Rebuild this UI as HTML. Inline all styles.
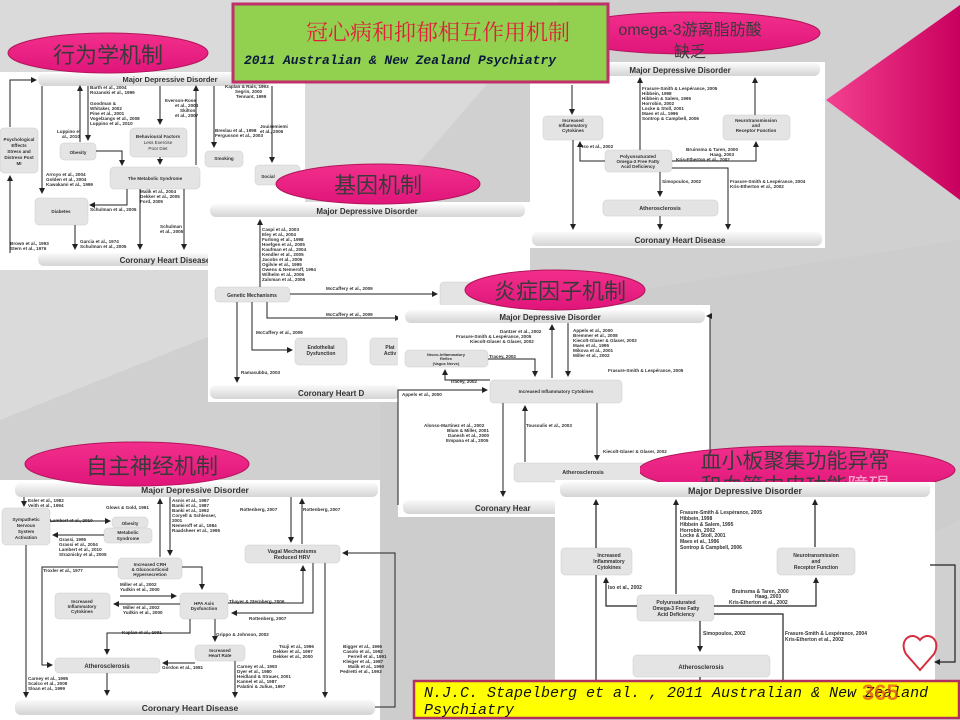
<!DOCTYPE html>
<html><head><meta charset="utf-8"><style>
body{margin:0;width:960px;height:720px;overflow:hidden;background:#d2d2d2}
svg{display:block}
.b{font-family:"Liberation Sans",sans-serif;font-weight:bold;fill:#333}
.s{font-family:"Liberation Sans",sans-serif;font-size:4.6px;fill:#333;font-weight:bold}
.cj{font-family:"Liberation Sans","Noto Sans CJK SC",sans-serif;fill:#3a3a3a}
</style></head><body>
<svg width="960" height="720" viewBox="0 0 960 720" xmlns="http://www.w3.org/2000/svg">
<defs>
<marker id="a" markerWidth="6" markerHeight="6" refX="5" refY="3" orient="auto" markerUnits="userSpaceOnUse"><path d="M0,0L6,3L0,6z" fill="#222"/></marker>
<linearGradient id="bar" x1="0" y1="0" x2="0" y2="1"><stop offset="0" stop-color="#fafafa"/><stop offset="1" stop-color="#d4d4d4"/></linearGradient>
<linearGradient id="pk" x1="0" y1="0" x2="0" y2="1"><stop offset="0" stop-color="#f22f8c"/><stop offset="1" stop-color="#e0157a"/></linearGradient>
<linearGradient id="tri" x1="0" y1="0" x2="1" y2="0"><stop offset="0" stop-color="#f4408f"/><stop offset="1" stop-color="#c8005e"/></linearGradient>
</defs>
<rect width="960" height="720" fill="#d0d0d0"/>
<polygon points="0,0 560,0 300,300 0,420" fill="#dadada"/>
<polygon points="380,330 960,240 960,520 560,720 380,720" fill="#cdcdcd"/>
<polygon points="826,100 960,5 960,200" fill="url(#tri)"/>

<!-- ===== Panel 1 behavioural ===== -->
<rect x="0" y="72" width="305" height="198" fill="#fff"/>
<rect x="38" y="73" width="230" height="13" rx="6" fill="url(#bar)"/>
<text x="170" y="82" class="b" font-size="7.5" text-anchor="middle">Major Depressive Disorder</text>
<rect x="38" y="253" width="190" height="13" rx="6" fill="url(#bar)"/>
<text x="165" y="263" class="b" font-size="8" text-anchor="middle">Coronary Heart Disease</text>
<g fill="#e4e4e4" stroke="#ccc" stroke-width="0.5">
<rect x="0" y="128" width="38" height="45" rx="4"/>
<rect x="60" y="143" width="36" height="17" rx="4"/>
<rect x="130" y="128" width="57" height="29" rx="4"/>
<rect x="110" y="167" width="90" height="22" rx="4"/>
<rect x="35" y="198" width="53" height="27" rx="4"/>
<rect x="205" y="151" width="38" height="16" rx="4"/>
<rect x="255" y="165" width="45" height="20" rx="4"/>
</g>
<g class="s" text-anchor="middle">
<text x="19" y="141">Psychological</text><text x="19" y="147">Effects</text><text x="19" y="153">Stress and</text><text x="19" y="159">Distress Post</text><text x="19" y="165">MI</text>
<text x="78" y="154">Obesity</text>
<text x="158" y="138">Behavioural Factors</text><text x="158" y="144" font-weight="normal">Less Exercise</text><text x="158" y="150" font-weight="normal">Poor Diet</text>
<text x="155" y="180">The Metabolic Syndrome</text>
<text x="61" y="213">Diabetes</text>
<text x="224" y="160">Smoking</text>
<text x="268" y="178">Social</text>
</g>
<g class="s">
<text x="90" y="89">Barth et al., 2004</text><text x="90" y="94">Rozanski et al., 1999</text>
<text x="90" y="105">Goodman &amp;</text><text x="90" y="110">Whitaker, 2002</text><text x="90" y="115">Pine et al., 2001</text><text x="90" y="120">Vogelzangs et al., 2008</text><text x="90" y="125">Luppino et al., 2010</text>
<text x="57" y="133">Luppino et</text><text x="62" y="138">al., 2010</text>
<text x="46" y="176">Arroyo et al., 2004</text><text x="46" y="181">Golden et al., 2004</text><text x="46" y="186">Kawakami et al., 1999</text>
<text x="165" y="102">Everson-Rose</text><text x="175" y="107">et al., 2004</text><text x="180" y="112">Skilton</text><text x="175" y="117">et al., 2007</text>
<text x="215" y="132">Breslau et al., 1998</text><text x="215" y="137">Fergusson et al., 2003</text>
<text x="260" y="128">Jouisemiemi</text><text x="260" y="133">et al., 2006</text>
<text x="140" y="193">Malik et al., 2004</text><text x="140" y="198">Dekker et al., 2005</text><text x="140" y="203">Ford, 2005</text>
<text x="90" y="211">Schulman et al., 2005</text>
<text x="160" y="228">Schulman</text><text x="160" y="233">et al., 2005</text>
<text x="10" y="245">Brown et al., 1993</text><text x="10" y="250">Stern et al., 1976</text>
<text x="80" y="243">Garcia et al., 1974</text><text x="80" y="248">Schulman et al., 2005</text>
<text x="225" y="88">Kaplan &amp; Rais, 1993</text><text x="235" y="93">Segrin, 2000</text><text x="236" y="98">Tennant, 1999</text>
</g>
<g stroke="#222" stroke-width="1" fill="none" marker-end="url(#a)">
<path d="M10,127V80H36"/><path d="M42,86V193"/><path d="M80,142V86"/><path d="M88,86V140"/>
<path d="M96,151H122V165"/><path d="M160,86V124"/><path d="M160,157V164"/><path d="M196,165V86"/>
<path d="M127,189V205H90"/><path d="M140,189V249"/><path d="M184,189V249"/><path d="M214,86V147"/>
<path d="M272,86V162"/><path d="M75,225V249"/><path d="M10,253V176"/>
</g>

<!-- ===== Panel omega ===== -->
<rect x="530" y="62" width="295" height="186" fill="#fff"/>
<rect x="540" y="63" width="280" height="13" rx="6" fill="url(#bar)"/>
<text x="680" y="73" class="b" font-size="8" text-anchor="middle">Major Depressive Disorder</text>
<rect x="532" y="232" width="290" height="14" rx="6" fill="url(#bar)"/>
<text x="680" y="243" class="b" font-size="8" text-anchor="middle">Coronary Heart Disease</text>
<g fill="#e4e4e4" stroke="#ccc" stroke-width="0.5">
<rect x="543" y="116" width="60" height="24" rx="4"/>
<rect x="723" y="115" width="67" height="25" rx="4"/>
<rect x="605" y="150" width="67" height="22" rx="4"/>
<rect x="603" y="200" width="115" height="16" rx="4"/>
</g>
<g class="s" text-anchor="middle">
<text x="573" y="122">Increased</text><text x="573" y="127">Inflammatory</text><text x="573" y="132">Cytokines</text>
<text x="756" y="122">Neurotransmission</text><text x="756" y="127">and</text><text x="756" y="132">Receptor Function</text>
<text x="638" y="158">Polyunsaturated</text><text x="638" y="163">Omega-3 Free Fatty</text><text x="638" y="168">Acid Deficiency</text>
<text x="660" y="210" font-size="5.5">Atherosclerosis</text>
</g>
<g class="s">
<text x="642" y="90">Frasure-Smith &amp; Lespérance, 2005</text><text x="642" y="95">Hibbein, 1998</text><text x="642" y="100">Hibbein &amp; Salem, 1995</text><text x="642" y="105">Horrobin, 2002</text><text x="642" y="110">Locke &amp; Stoll, 2001</text><text x="642" y="115">Maes et al., 1996</text><text x="642" y="120">Sontrop &amp; Campbell, 2006</text>
<text x="582" y="148">Iso et al., 2002</text>
<text x="686" y="151">Bruinsma &amp; Taren, 2000</text><text x="710" y="156">Haag, 2003</text><text x="676" y="161">Kris-Etherton et al., 2002</text>
<text x="662" y="183">Simopoulos, 2002</text>
<text x="730" y="183">Frasure-Smith &amp; Lespérance, 2004</text><text x="730" y="188">Kris-Etherton et al., 2002</text>
</g>
<g stroke="#222" stroke-width="1" fill="none" marker-end="url(#a)">
<path d="M640,150V78"/><path d="M755,115V78"/><path d="M605,161H580V142"/><path d="M672,161H756V142"/>
<path d="M660,172V196"/><path d="M672,168H728V229"/><path d="M660,216V229"/><path d="M573,140V229"/><path d="M572,85V114"/>
</g>

<!-- ===== Panel genetic ===== -->
<rect x="208" y="202" width="322" height="200" fill="#fff"/>
<rect x="210" y="204" width="315" height="13" rx="6" fill="url(#bar)"/>
<text x="367" y="214" class="b" font-size="8" text-anchor="middle">Major Depressive Disorder</text>
<rect x="210" y="385" width="190" height="14" rx="6" fill="url(#bar)"/>
<text x="298" y="396" class="b" font-size="8">Coronary Heart D</text>
<g fill="#e4e4e4" stroke="#ccc" stroke-width="0.5">
<rect x="215" y="287" width="75" height="15" rx="4"/>
<rect x="295" y="338" width="52" height="27" rx="4"/>
<rect x="370" y="338" width="30" height="27" rx="4"/>
<rect x="440" y="282" width="60" height="26" rx="4"/>
</g>
<g class="s" text-anchor="middle">
<text x="252" y="297" font-size="5">Genetic Mechanisms</text>
<text x="321" y="349" font-size="5">Endothelial</text><text x="321" y="355" font-size="5">Dysfunction</text>
<text x="390" y="349" font-size="5">Plat</text><text x="390" y="355" font-size="5">Activ</text>
</g>
<g class="s">
<text x="262" y="231">Caspi et al., 2003</text><text x="262" y="236">Eley et al., 2004</text><text x="262" y="241">Furlong et al., 1998</text><text x="262" y="246">Hoefgen et al., 2005</text><text x="262" y="251">Kaufman et al., 2004</text><text x="262" y="256">Kendler et al., 2005</text><text x="262" y="261">Jacobs et al., 2006</text><text x="262" y="266">Ogilvie et al., 1995</text><text x="262" y="271">Owens &amp; Nemeroff, 1994</text><text x="262" y="276">Wilhelm et al., 2006</text><text x="262" y="281">Zalsman et al., 2006</text>
<text x="326" y="290">McCaffery et al., 2009</text><text x="326" y="316">McCaffery et al., 2009</text><text x="256" y="334">McCaffery et al., 2009</text><text x="241" y="374">Ramasubbu, 2003</text>
</g>
<g stroke="#222" stroke-width="1" fill="none" marker-end="url(#a)">
<path d="M260,287V220"/><path d="M290,294H437"/><path d="M267,302V318H400"/><path d="M252,302V350H292"/><path d="M237,302V382"/>
</g>

<!-- ===== Panel inflammatory ===== -->
<rect x="398" y="305" width="312" height="212" fill="#fff"/>
<rect x="405" y="310" width="300" height="13" rx="6" fill="url(#bar)"/>
<text x="550" y="320" class="b" font-size="8" text-anchor="middle">Major Depressive Disorder</text>
<rect x="403" y="500" width="170" height="14" rx="6" fill="url(#bar)"/>
<text x="475" y="511" class="b" font-size="8">Coronary Hear</text>
<g fill="#e4e4e4" stroke="#ccc" stroke-width="0.5">
<rect x="405" y="350" width="83" height="17" rx="4"/>
<rect x="490" y="380" width="132" height="23" rx="4"/>
<rect x="514" y="463" width="140" height="19" rx="4"/>
</g>
<g class="s" text-anchor="middle">
<text x="446" y="356" font-size="4">Neuro-Inflammatory</text><text x="446" y="360" font-size="4">Reflex</text><text x="446" y="365" font-size="4">(Vagus Nerve)</text>
<text x="556" y="393">Increased Inflammatory Cytokines</text>
<text x="583" y="474" font-size="5.5">Atherosclerosis</text>
</g>
<g class="s">
<text x="500" y="333">Dantzer et al., 2002</text><text x="456" y="338">Frasure-Smith &amp; Lespérance, 2005</text><text x="470" y="343">Kiecolt-Glaser &amp; Glaser, 2002</text>
<text x="573" y="332">Appels et al., 2000</text><text x="573" y="337">Bremmer et al., 2008</text><text x="573" y="342">Kiecolt-Glaser &amp; Glaser, 2002</text><text x="573" y="347">Maes et al., 1995</text><text x="573" y="352">Mikova et al., 2001</text><text x="573" y="357">Miller et al., 2002</text>
<text x="608" y="372">Frasure-Smith &amp; Lespérance, 2005</text>
<text x="489" y="358">Tracey, 2002</text><text x="450" y="383">Tracey, 2002</text><text x="402" y="396">Appels et al., 2000</text>
<text x="424" y="427">Alonso-Martinez et al., 2002</text><text x="447" y="432">Blum &amp; Miller, 2001</text><text x="448" y="437">Danesh et al., 2000</text><text x="446" y="442">Empana et al., 2005</text>
<text x="526" y="427">Tousoulis et al., 2003</text><text x="603" y="453">Kiecolt-Glaser &amp; Glaser, 2002</text>
</g>
<g stroke="#222" stroke-width="1" fill="none" marker-end="url(#a)">
<path d="M552,378V325"/><path d="M568,323V376"/><path d="M488,359H535V376"/><path d="M490,380H445V370"/>
<path d="M398,505V390H487"/><path d="M503,403V496"/><path d="M525,462V406"/><path d="M597,403V460"/>
<path d="M710,480V316H707"/>
</g>

<!-- ===== Panel autonomic ===== -->
<rect x="0" y="480" width="380" height="240" fill="#fff"/>
<rect x="15" y="483" width="363" height="14" rx="6" fill="url(#bar)"/>
<text x="195" y="493" class="b" font-size="8.5" text-anchor="middle">Major Depressive Disorder</text>
<rect x="15" y="700" width="360" height="15" rx="6" fill="url(#bar)"/>
<text x="190" y="711" class="b" font-size="8.5" text-anchor="middle">Coronary Heart Disease</text>
<g fill="#e4e4e4" stroke="#ccc" stroke-width="0.5">
<rect x="2" y="508" width="48" height="37" rx="4"/>
<rect x="112" y="517" width="36" height="11" rx="4"/>
<rect x="104" y="528" width="48" height="15" rx="4"/>
<rect x="118" y="558" width="64" height="21" rx="4"/>
<rect x="245" y="545" width="95" height="18" rx="4"/>
<rect x="55" y="593" width="55" height="26" rx="4"/>
<rect x="180" y="593" width="48" height="26" rx="4"/>
<rect x="195" y="645" width="50" height="16" rx="4"/>
<rect x="55" y="658" width="105" height="15" rx="4"/>
</g>
<g class="s" text-anchor="middle">
<text x="26" y="521">Sympathetic</text><text x="26" y="527">Nervous</text><text x="26" y="533">System</text><text x="26" y="539">Activation</text>
<text x="130" y="525">Obesity</text><text x="128" y="534">Metabolic</text><text x="128" y="540">Syndrome</text>
<text x="150" y="566">Increased CRH</text><text x="150" y="571">&amp; Glucocorticoid</text><text x="150" y="576">Hypersecretion</text>
<text x="292" y="553" font-size="5.5">Vagal Mechanisms</text><text x="292" y="559" font-size="5.5">Reduced HRV</text>
<text x="82" y="603">Increased</text><text x="82" y="608">Inflammatory</text><text x="82" y="613">Cytokines</text>
<text x="204" y="605">HPA Axis</text><text x="204" y="610">Dysfunction</text>
<text x="220" y="652">Increased</text><text x="220" y="657">Heart Rate</text>
<text x="107" y="668" font-size="6">Atherosclerosis</text>
</g>
<g class="s">
<text x="28" y="502">Esler et al., 1982</text><text x="28" y="507">Veith et al., 1994</text>
<text x="106" y="509">Glows &amp; Gold, 1991</text>
<text x="172" y="502">Asnis et al., 1987</text><text x="172" y="507">Banki et al., 1987</text><text x="172" y="512">Banki et al., 1992</text><text x="172" y="517">Coryell &amp; Schlesser,</text><text x="172" y="522">2001</text><text x="172" y="527">Nemeroff et al., 1984</text><text x="172" y="532">Raadsheer et al., 1995</text>
<text x="240" y="511">Rottenberg, 2007</text><text x="303" y="511">Rottenberg, 2007</text>
<text x="50" y="522">Lambert et al., 2010</text>
<text x="59" y="541">Grassi, 1995</text><text x="59" y="546">Grassi et al., 2004</text><text x="59" y="551">Lambert et al., 2010</text><text x="59" y="556">Straznicky et al., 2005</text>
<text x="43" y="572">Troxler et al., 1977</text>
<text x="120" y="586">Miller et al., 2002</text><text x="120" y="591">Yudkin et al., 2000</text>
<text x="123" y="609">Miller et al., 2002</text><text x="123" y="614">Yudkin et al., 2000</text>
<text x="229" y="603">Thayer &amp; Sternberg, 2006</text><text x="249" y="620">Rottenberg, 2007</text>
<text x="122" y="634">Kaplan et al., 1991</text><text x="216" y="636">Grippo &amp; Johnson, 2002</text>
<text x="162" y="669">Gordon et al., 1981</text>
<text x="279" y="648">Tsuji et al., 1996</text><text x="273" y="653">Dekker et al., 1997</text><text x="273" y="658">Dekker et al., 2000</text>
<text x="237" y="668">Carney et al., 1993</text><text x="237" y="673">Dyer et al., 1980</text><text x="237" y="678">Heidland &amp; Strauer, 2001</text><text x="237" y="683">Kannel et al., 1987</text><text x="237" y="688">Palatini &amp; Julius, 1997</text>
<text x="343" y="648">Bigger et al., 1996</text><text x="343" y="653">Casolo et al., 1992</text><text x="348" y="658">Ferrell et al., 1991</text><text x="343" y="663">Kleiger et al., 1987</text><text x="348" y="668">Malik et al., 1990</text><text x="340" y="673">Pedretti et al., 1993</text>
<text x="28" y="680">Carney et al., 1995</text><text x="28" y="685">Scalco et al., 2009</text><text x="28" y="690">Sloan et al., 1999</text>
</g>
<g stroke="#222" stroke-width="1" fill="none" marker-end="url(#a)">
<path d="M24,497V506"/><path d="M50,521H110"/><path d="M104,535H53"/><path d="M160,557V499"/><path d="M170,497V555"/>
<path d="M182,567H202V589"/><path d="M118,567H42V665H52"/><path d="M120,596H176"/><path d="M180,604H114"/>
<path d="M228,603H303V566"/><path d="M313,563V613H232"/><path d="M291,497V542"/><path d="M302,544V499"/>
<path d="M190,619V633H107V654"/><path d="M215,619V641"/><path d="M195,663H163"/><path d="M107,673V695"/>
<path d="M235,661V697"/><path d="M325,563V697"/><path d="M26,545V697"/><path d="M375,707H395V553H343"/>
</g>

<!-- ===== Panel platelet ===== -->
<rect x="555" y="480" width="380" height="220" fill="#fff"/>
<rect x="560" y="482" width="370" height="15" rx="6" fill="url(#bar)"/>
<text x="745" y="494" class="b" font-size="9" text-anchor="middle">Major Depressive Disorder</text>
<g fill="#e4e4e4" stroke="#ccc" stroke-width="0.5">
<rect x="561" y="548" width="71" height="27" rx="4"/>
<rect x="777" y="548" width="78" height="27" rx="4"/>
<rect x="637" y="595" width="77" height="26" rx="4"/>
<rect x="633" y="655" width="137" height="22" rx="4"/>
</g>
<g class="s" text-anchor="middle">
<text x="609" y="557" font-size="5">Increased</text><text x="609" y="563" font-size="5">Inflammatory</text><text x="609" y="569" font-size="5">Cytokines</text>
<text x="816" y="557" font-size="5">Neurotransmission</text><text x="816" y="563" font-size="5">and</text><text x="816" y="569" font-size="5">Receptor Function</text>
<text x="676" y="604" font-size="5">Polyunsaturated</text><text x="676" y="610" font-size="5">Omega-3 Free Fatty</text><text x="676" y="616" font-size="5">Acid Deficiency</text>
<text x="701" y="669" font-size="6">Atherosclerosis</text>
</g>
<g class="s">
<text x="680" y="514" font-size="5">Frasure-Smith &amp; Lespérance, 2005</text><text x="680" y="520" font-size="5">Hibbein, 1998</text><text x="680" y="526" font-size="5">Hibbein &amp; Salem, 1995</text><text x="680" y="532" font-size="5">Horrobin, 2002</text><text x="680" y="537" font-size="5">Locke &amp; Stoll, 2001</text><text x="680" y="543" font-size="5">Maes et al., 1996</text><text x="680" y="549" font-size="5">Sontrop &amp; Campbell, 2006</text>
<text x="608" y="589" font-size="5">Iso et al., 2002</text>
<text x="732" y="593" font-size="5">Bruinsma &amp; Taren, 2000</text><text x="755" y="598" font-size="5">Haag, 2003</text><text x="729" y="604" font-size="5">Kris-Etherton et al., 2002</text>
<text x="703" y="635" font-size="5">Simopoulos, 2002</text>
<text x="785" y="635" font-size="5">Frasure-Smith &amp; Lespérance, 2004</text><text x="785" y="641" font-size="5">Kris-Etherton et al., 2002</text>
</g>
<g stroke="#222" stroke-width="1.2" fill="none" marker-end="url(#a)">
<path d="M596,548V500"/><path d="M676,594V500"/><path d="M815,547V500"/><path d="M637,606H606V578"/>
<path d="M714,606H816V578"/><path d="M700,621V651"/>
<path d="M930,565H955V662H935"/>
</g>
<g stroke="#222" stroke-width="1.2" fill="none">
<path d="M714,614H783V690"/><path d="M596,575V690"/><path d="M700,677V690"/>
</g>
<path d="M920,640c-8-10-22,0-14,14l14,16l14-16c8-14-6-24-14-14z" fill="none" stroke="#d43040" stroke-width="2"/>

<!-- ===== Ellipses ===== -->
<ellipse cx="108" cy="53" rx="100" ry="20" fill="url(#pk)" stroke="#b3155a" stroke-width="1"/>
<text x="108" y="63" class="cj" font-size="22" text-anchor="middle">行为学机制</text>
<ellipse cx="690" cy="33" rx="130" ry="21" fill="url(#pk)" stroke="#b3155a" stroke-width="1"/>
<text x="690" y="35" class="cj" font-size="16" text-anchor="middle">omega-3游离脂肪酸</text>
<text x="690" y="57" class="cj" font-size="16" text-anchor="middle">缺乏</text>
<ellipse cx="378" cy="184" rx="102" ry="20" fill="url(#pk)" stroke="#b3155a" stroke-width="1"/>
<text x="378" y="193" class="cj" font-size="22" text-anchor="middle">基因机制</text>
<ellipse cx="555" cy="290" rx="90" ry="20" fill="url(#pk)" stroke="#b3155a" stroke-width="1"/>
<text x="560" y="299" class="cj" font-size="22" text-anchor="middle">炎症因子机制</text>
<ellipse cx="137" cy="464" rx="112" ry="22" fill="url(#pk)" stroke="#b3155a" stroke-width="1"/>
<text x="152" y="474" class="cj" font-size="22" text-anchor="middle">自主神经机制</text>
<svg x="640" y="430" width="325" height="52" overflow="hidden">
<ellipse cx="157" cy="40" rx="158" ry="24" fill="url(#pk)" stroke="#b3155a" stroke-width="1"/>
<text x="155" y="38" class="cj" font-size="21" text-anchor="middle">血小板聚集功能异常</text>
<text x="155" y="63" class="cj" font-size="21" text-anchor="middle">和血管内皮功能<tspan fill="#f5a0c8">障碍</tspan></text>
</svg>

<!-- title box -->
<rect x="233" y="4" width="375" height="78" fill="#92d050" stroke="#c0306a" stroke-width="3"/>
<text x="438" y="40" font-family="'Liberation Serif','Noto Serif CJK SC',serif" font-size="22" fill="#e0203a" text-anchor="middle">冠心病和抑郁相互作用机制</text>
<text x="244" y="64" font-family="'Liberation Mono',monospace" font-style="italic" font-weight="bold" font-size="13" fill="#0a1a3a">2011 Australian &amp; New Zealand Psychiatry</text>

<!-- bottom yellow box -->
<rect x="414" y="681" width="545" height="37" fill="#ffff00" stroke="#b03060" stroke-width="2.5"/>
<text x="424" y="697" font-family="'Liberation Mono',monospace" font-style="italic" font-size="15" fill="#111">N.J.C. Stapelberg et al. , 2011 Australian &amp; New Zealand</text>
<text x="424" y="714" font-family="'Liberation Mono',monospace" font-style="italic" font-size="15" fill="#111">Psychiatry</text>
<text x="862" y="700" font-family="'Liberation Sans',sans-serif" font-weight="bold" font-size="22" fill="#e05020" opacity="0.75">365</text>
</svg>
</body></html>
